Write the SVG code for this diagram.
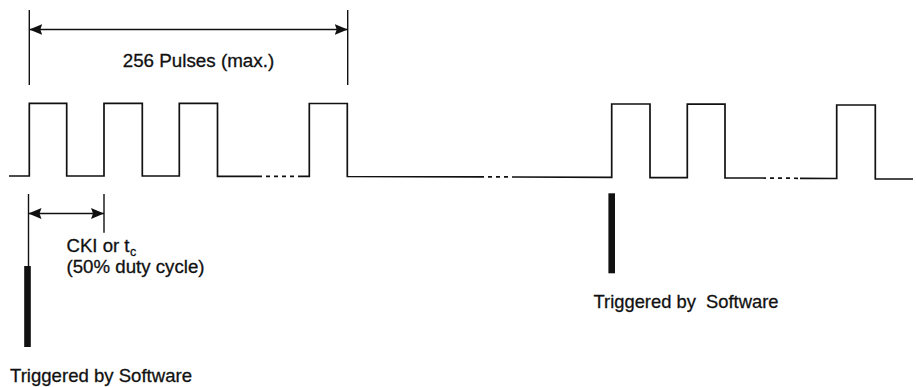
<svg xmlns="http://www.w3.org/2000/svg" width="916" height="387" viewBox="0 0 916 387">
<defs>
<style>
.w{fill:none;stroke:#111;stroke-width:1.7;stroke-linejoin:miter}
.d{fill:none;stroke:#111;stroke-width:1.7;stroke-dasharray:4 4}
.dim{fill:none;stroke:#111;stroke-width:1.4}
.bar{fill:#111}
.t{font-family:"Liberation Sans",Arial,Helvetica,sans-serif;fill:#111;stroke:#111;stroke-width:0.3;white-space:pre}
</style>
<marker id="ah" viewBox="0 0 13 12" refX="13" refY="6" markerWidth="13" markerHeight="12" markerUnits="userSpaceOnUse" orient="auto-start-reverse">
<path d="M0,0.5 L13,6 L0,11.5 L2,6 Z" fill="#111"/>
</marker>
</defs>
<rect width="916" height="387" fill="#fff"/>
<g id="waveform">
<polyline class="w" points="9,176 29.3,176 29.3,103.3 66.7,103.3 66.7,176 104,176 104,103.3 142.3,103.3 142.3,176 179.3,176 179.3,103.4 217.5,103.4 217.5,176.3 258,176.3"/>
<line class="d" x1="258" y1="176.3" x2="298" y2="176.4"/>
<polyline class="w" points="298,176.4 309.3,176.4 309.3,103.5 347.3,103.5 347.3,176.5 480,176.8"/>
<line class="d" x1="480" y1="176.8" x2="516" y2="177"/>
<polyline class="w" points="516,177 611.7,177.3 611.7,104 650,104 650,177.7 687.3,177.7 687.3,104.2 725,104.2 725,178 762,178"/>
<line class="d" x1="762" y1="178" x2="800" y2="178.3"/>
<polyline class="w" points="800,178.3 836.7,178.5 836.7,105 875.3,105 875.3,179 913,179"/>
</g>
<g id="pulse-span">
<line class="dim" x1="29.3" y1="10" x2="29.3" y2="85"/>
<line class="dim" x1="347.7" y1="10" x2="347.7" y2="85"/>
<line class="dim" x1="29.3" y1="29.5" x2="347.7" y2="29.5" marker-start="url(#ah)" marker-end="url(#ah)"/>
<text class="t" x="122.7" y="67" font-size="18" textLength="151.5" lengthAdjust="spacingAndGlyphs">256 Pulses (max.)</text>
</g>
<g id="clock-period">
<line class="dim" x1="28.5" y1="194" x2="28.5" y2="267"/>
<line class="dim" x1="104" y1="194" x2="104" y2="232.7"/>
<line class="dim" x1="28.5" y1="213.5" x2="104" y2="213.5" marker-start="url(#ah)" marker-end="url(#ah)"/>
<text class="t" x="66.5" y="252" font-size="18"><tspan textLength="63" lengthAdjust="spacingAndGlyphs">CKI or t</tspan><tspan font-size="12.5" dx="0.5" dy="3.5">c</tspan></text>
<text class="t" x="66.5" y="273" font-size="18" textLength="138" lengthAdjust="spacingAndGlyphs">(50% duty cycle)</text>
</g>
<g id="trigger-1">
<rect class="bar" x="24.2" y="266" width="6.6" height="81"/>
<text class="t" x="10" y="381.5" font-size="19" textLength="182" lengthAdjust="spacingAndGlyphs">Triggered by Software</text>
</g>
<g id="trigger-2">
<rect class="bar" x="608.4" y="193.3" width="6.6" height="80"/>
<text class="t" x="593.5" y="307.5" font-size="19" textLength="185" lengthAdjust="spacingAndGlyphs">Triggered by  Software</text>
</g>
</svg>
